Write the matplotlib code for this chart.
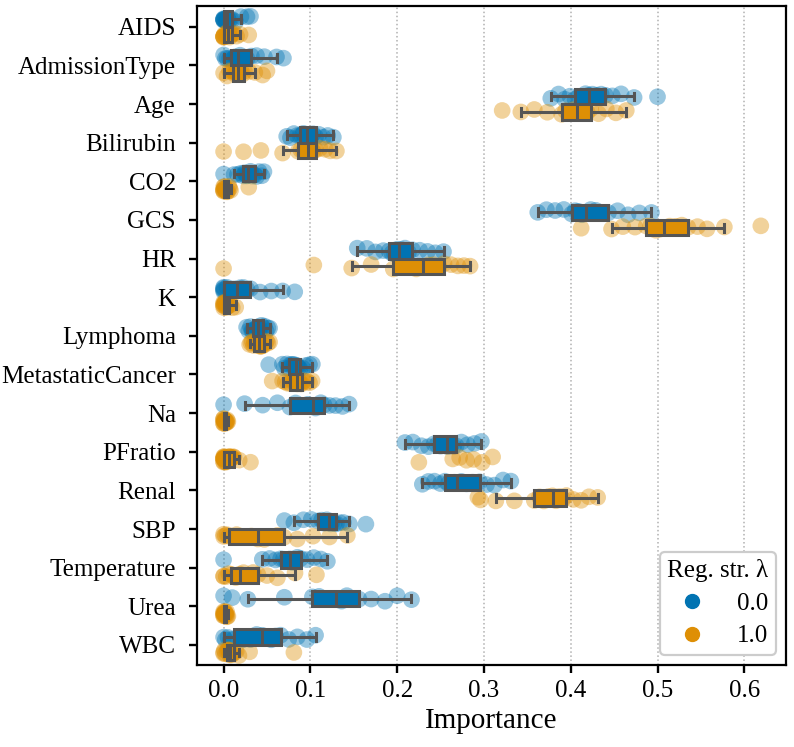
import numpy as np
import pandas as pd
import matplotlib
matplotlib.use('Agg')
import matplotlib.pyplot as plt
from matplotlib.lines import Line2D
import seaborn as sns

# feature names (y axis) and the two regularisation strengths (hue)
features = ['AIDS', 'AdmissionType', 'Age', 'Bilirubin', 'CO2', 'GCS', 'HR', 'K',
            'Lymphoma', 'MetastaticCancer', 'Na', 'PFratio', 'Renal', 'SBP',
            'Temperature', 'Urea', 'WBC']
lambdas = ['0.0', '1.0']
colors = ['#0173b2', '#de8f05']

# importance values per run (lambda = 0.0 / 1.0)
aids_0 = [0.0, 0.0, 0.0, 0.0, 0.0, 0.001, 0.002, 0.003, 0.004, 0.005, 0.006, 0.008, 0.01, 0.014, 0.02, 0.027, 0.031]
aids_1 = [0.0, 0.0, 0.0, 0.0, 0.0, 0.001, 0.003, 0.004, 0.005, 0.006, 0.007, 0.009, 0.01, 0.012, 0.015, 0.019, 0.029]
admission_0 = [0.0, 0.002, 0.004, 0.007, 0.009, 0.011, 0.013, 0.015, 0.0165, 0.019, 0.023, 0.027, 0.032, 0.038, 0.047, 0.061, 0.069]
admission_1 = [0.0, 0.004, 0.007, 0.009, 0.011, 0.013, 0.014, 0.015, 0.0165, 0.018, 0.02, 0.022, 0.024, 0.029, 0.036, 0.045, 0.05]
age_0 = [0.377, 0.386, 0.393, 0.399, 0.405, 0.409, 0.413, 0.417, 0.421, 0.425, 0.43, 0.435, 0.44, 0.448, 0.458, 0.473, 0.5]
age_1 = [0.321, 0.3425, 0.358, 0.373, 0.3895, 0.394, 0.398, 0.403, 0.407, 0.411, 0.415, 0.419, 0.423, 0.432, 0.441, 0.452, 0.464]
bilirubin_0 = [0.0727, 0.077, 0.081, 0.085, 0.088, 0.09, 0.092, 0.094, 0.0965, 0.099, 0.101, 0.103, 0.106, 0.11, 0.115, 0.12, 0.1265]
bilirubin_1 = [0.0, 0.023, 0.043, 0.068, 0.086, 0.089, 0.092, 0.095, 0.097, 0.099, 0.101, 0.103, 0.106, 0.111, 0.117, 0.123, 0.13]
co2_0 = [0.0, 0.012, 0.016, 0.02, 0.0227, 0.024, 0.025, 0.0265, 0.028, 0.0295, 0.031, 0.033, 0.0358, 0.038, 0.041, 0.044, 0.0465]
co2_1 = [0.0, 0.0, 0.0, 0.0, 0.0, 0.001, 0.001, 0.002, 0.002, 0.003, 0.003, 0.004, 0.005, 0.006, 0.007, 0.008, 0.029]
gcs_0 = [0.362, 0.372, 0.382, 0.392, 0.401, 0.405, 0.409, 0.413, 0.4175, 0.423, 0.429, 0.436, 0.4435, 0.454, 0.466, 0.479, 0.493]
gcs_1 = [0.412, 0.447, 0.46, 0.474, 0.487, 0.492, 0.498, 0.503, 0.508, 0.514, 0.521, 0.528, 0.535, 0.546, 0.557, 0.577, 0.619]
hr_0 = [0.154, 0.165, 0.175, 0.184, 0.1907, 0.194, 0.197, 0.2, 0.2022, 0.205, 0.209, 0.213, 0.2176, 0.226, 0.235, 0.244, 0.2534]
hr_1 = [0.0, 0.104, 0.1476, 0.17, 0.1955, 0.205, 0.213, 0.222, 0.23, 0.236, 0.242, 0.248, 0.254, 0.262, 0.27, 0.277, 0.284]
k_0 = [0.0, 0.0, 0.0, 0.0, 0.0, 0.004, 0.008, 0.012, 0.015, 0.019, 0.023, 0.027, 0.031, 0.042, 0.055, 0.068, 0.082]
k_1 = [0.0, 0.0, 0.0, 0.0, 0.0, 0.001, 0.002, 0.002, 0.003, 0.004, 0.004, 0.005, 0.006, 0.007, 0.008, 0.01, 0.014]
lymphoma_0 = [0.0265, 0.029, 0.031, 0.0325, 0.0335, 0.035, 0.0365, 0.038, 0.0395, 0.041, 0.042, 0.0435, 0.045, 0.047, 0.049, 0.051, 0.053]
lymphoma_1 = [0.03, 0.0315, 0.033, 0.0345, 0.0355, 0.037, 0.038, 0.0395, 0.041, 0.042, 0.043, 0.0445, 0.046, 0.048, 0.0495, 0.051, 0.053]
metastatic_0 = [0.052, 0.0677, 0.07, 0.073, 0.075, 0.077, 0.079, 0.081, 0.083, 0.084, 0.085, 0.0865, 0.088, 0.091, 0.095, 0.099, 0.1023]
metastatic_1 = [0.056, 0.068, 0.071, 0.074, 0.077, 0.079, 0.081, 0.083, 0.085, 0.086, 0.087, 0.0885, 0.09, 0.093, 0.096, 0.099, 0.102]
na_0 = [0.0, 0.0242, 0.045, 0.062, 0.0765, 0.083, 0.09, 0.097, 0.1034, 0.106, 0.109, 0.112, 0.1157, 0.122, 0.129, 0.137, 0.1446]
na_1 = [0.0, 0.0, 0.0, 0.0, 0.0, 0.0005, 0.001, 0.001, 0.0015, 0.002, 0.002, 0.0025, 0.003, 0.003, 0.004, 0.004, 0.005]
pfratio_0 = [0.209, 0.218, 0.228, 0.236, 0.2426, 0.246, 0.25, 0.254, 0.258, 0.26, 0.262, 0.265, 0.268, 0.274, 0.281, 0.289, 0.297]
pfratio_1 = [0.0, 0.0, 0.0, 0.0, 0.0, 0.0, 0.0, 0.0005, 0.001, 0.001,
             0.002, 0.002, 0.003, 0.003, 0.004, 0.004, 0.005, 0.005, 0.006,
             0.0065, 0.007, 0.0075, 0.008, 0.009, 0.0095, 0.01, 0.011, 0.012,
             0.018, 0.031, 0.225, 0.264, 0.272, 0.28, 0.288, 0.298, 0.31]
renal_0 = [0.229, 0.236, 0.243, 0.25, 0.255, 0.259, 0.263, 0.266, 0.2695, 0.274, 0.28, 0.287, 0.295, 0.303, 0.312, 0.322, 0.331]
renal_1 = [0.293, 0.296, 0.3137, 0.335, 0.358, 0.364, 0.369, 0.374, 0.379, 0.383, 0.387, 0.391, 0.395, 0.403, 0.412, 0.421, 0.431]
sbp_0 = [0.07, 0.081, 0.092, 0.101, 0.109, 0.113, 0.116, 0.119, 0.1215, 0.123, 0.125, 0.1275, 0.13, 0.134, 0.138, 0.145, 0.164]
sbp_1 = [0.0, 0.0, 0.002, 0.004, 0.006, 0.015, 0.024, 0.032, 0.0396, 0.047, 0.055, 0.062, 0.0696, 0.085, 0.103, 0.122, 0.1426]
temp_0 = [0.0, 0.0446, 0.053, 0.06, 0.0657, 0.069, 0.072, 0.074, 0.0765, 0.079, 0.082, 0.085, 0.0888, 0.096, 0.104, 0.112, 0.1196]
temp_1 = [0.0, 0.0, 0.003, 0.006, 0.0088, 0.012, 0.014, 0.016, 0.0188, 0.023, 0.028, 0.034, 0.0396, 0.05, 0.062, 0.0823, 0.107]
urea_0 = [0.0, 0.01, 0.028, 0.07, 0.1023, 0.11, 0.117, 0.124, 0.13, 0.136, 0.142, 0.149, 0.156, 0.17, 0.186, 0.2, 0.2165]
urea_1 = [0.0, 0.0, 0.0, 0.0, 0.0, 0.0005, 0.001, 0.001, 0.0015, 0.002, 0.002, 0.0025, 0.003, 0.003, 0.0035, 0.004, 0.005]
wbc_0 = [0.0, 0.002, 0.005, 0.008, 0.012, 0.022, 0.031, 0.038, 0.0446, 0.05, 0.055, 0.06, 0.0657, 0.075, 0.085, 0.096, 0.106]
wbc_1 = [0.0, 0.0, 0.001, 0.002, 0.004, 0.005, 0.006, 0.0065, 0.007, 0.008, 0.009, 0.0105, 0.012, 0.0145, 0.0177, 0.03, 0.081]

runs = [
    (aids_0, aids_1), (admission_0, admission_1), (age_0, age_1),
    (bilirubin_0, bilirubin_1), (co2_0, co2_1), (gcs_0, gcs_1), (hr_0, hr_1),
    (k_0, k_1), (lymphoma_0, lymphoma_1), (metastatic_0, metastatic_1),
    (na_0, na_1), (pfratio_0, pfratio_1), (renal_0, renal_1), (sbp_0, sbp_1),
    (temp_0, temp_1), (urea_0, urea_1), (wbc_0, wbc_1),
]

rows = []
for feat, pair in zip(features, runs):
    for lam, vals in zip(lambdas, pair):
        for v in vals:
            rows.append((feat, lam, v))
df = pd.DataFrame(rows, columns=['feature', 'lam', 'importance'])

plt.rcParams['font.family'] = ['Liberation Serif', 'DejaVu Serif']
plt.rcParams['font.size'] = 18

np.random.seed(0)
fig = plt.figure(figsize=(7.94, 7.47), dpi=100)
ax = fig.add_axes([0.2477, 0.1098, 0.7422, 0.8822])

ax.grid(axis='x', linestyle=':', color='#b0b0b0', linewidth=1.1, zorder=0)
ax.set_axisbelow(True)

sns.stripplot(data=df, x='importance', y='feature', hue='lam', order=features,
              hue_order=lambdas, palette=colors, dodge=True, jitter=0.15,
              size=12, alpha=0.4, linewidth=0, legend=False, ax=ax, zorder=2)

line_gray = '#555555'
sns.boxplot(data=df, x='importance', y='feature', hue='lam', order=features,
            hue_order=lambdas, palette=colors, dodge=True, width=0.8,
            saturation=1, showfliers=False, linewidth=2.2,
            boxprops=dict(edgecolor=line_gray, linewidth=2.2, zorder=3),
            whiskerprops=dict(color=line_gray, linewidth=2.2, zorder=3),
            capprops=dict(color=line_gray, linewidth=2.2, zorder=3),
            medianprops=dict(color=line_gray, linewidth=2.2, zorder=4),
            legend=False, ax=ax)

ax.set_xlim(-0.031, 0.648)
ax.set_ylim(16.52, -0.54)
ax.set_xticks([0.0, 0.1, 0.2, 0.3, 0.4, 0.5, 0.6])
ax.set_xticklabels(['0.0', '0.1', '0.2', '0.3', '0.4', '0.5', '0.6'])
ax.set_xlabel('Importance', fontsize=21, labelpad=4)
ax.set_ylabel('')
ax.tick_params(axis='both', length=6, width=1.7, labelsize=18)
ax.tick_params(axis='y', pad=9)
ax.tick_params(axis='x', pad=5)
for sp in ax.spines.values():
    sp.set_linewidth(1.6)
    sp.set_color('black')

handles = [Line2D([], [], marker='o', linestyle='', color=c, markersize=10) for c in colors]
leg = ax.legend(handles, lambdas, title='Reg. str. λ', loc='lower right',
                fontsize=18, title_fontsize=18, frameon=True, fancybox=True,
                edgecolor='#cccccc', framealpha=1, handletextpad=0.8,
                borderpad=0.3, labelspacing=0.4, borderaxespad=0.4)
leg.get_frame().set_linewidth(1.6)

fig.savefig('out.png', dpi=100)
